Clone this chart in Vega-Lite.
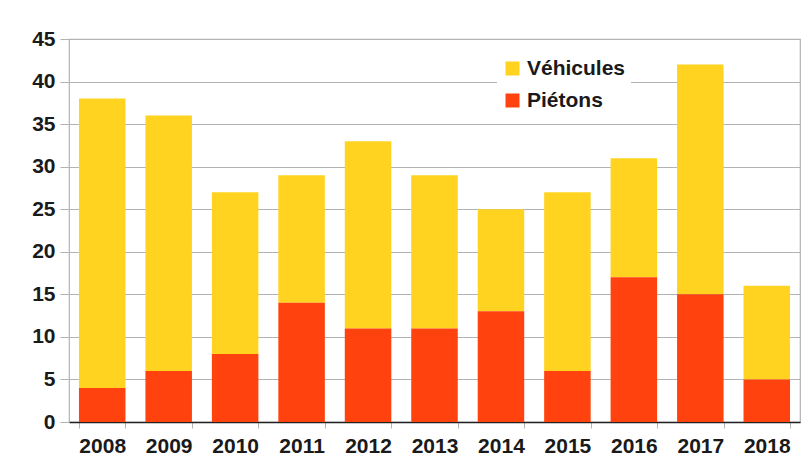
{
  "$schema": "https://vega.github.io/schema/vega-lite/v6.json",
  "width": 731,
  "height": 383,
  "autosize": {"type": "none"},
  "padding": {"left": 69, "top": 39, "right": 12, "bottom": 40},
  "background": "white",
  "data": {
    "values": [
      {"annee": "2008", "type": "Véhicules", "nombre": 34},
      {"annee": "2008", "type": "Piétons", "nombre": 4},
      {"annee": "2009", "type": "Véhicules", "nombre": 30},
      {"annee": "2009", "type": "Piétons", "nombre": 6},
      {"annee": "2010", "type": "Véhicules", "nombre": 19},
      {"annee": "2010", "type": "Piétons", "nombre": 8},
      {"annee": "2011", "type": "Véhicules", "nombre": 15},
      {"annee": "2011", "type": "Piétons", "nombre": 14},
      {"annee": "2012", "type": "Véhicules", "nombre": 22},
      {"annee": "2012", "type": "Piétons", "nombre": 11},
      {"annee": "2013", "type": "Véhicules", "nombre": 18},
      {"annee": "2013", "type": "Piétons", "nombre": 11},
      {"annee": "2014", "type": "Véhicules", "nombre": 12},
      {"annee": "2014", "type": "Piétons", "nombre": 13},
      {"annee": "2015", "type": "Véhicules", "nombre": 21},
      {"annee": "2015", "type": "Piétons", "nombre": 6},
      {"annee": "2016", "type": "Véhicules", "nombre": 14},
      {"annee": "2016", "type": "Piétons", "nombre": 17},
      {"annee": "2017", "type": "Véhicules", "nombre": 27},
      {"annee": "2017", "type": "Piétons", "nombre": 15},
      {"annee": "2018", "type": "Véhicules", "nombre": 11},
      {"annee": "2018", "type": "Piétons", "nombre": 5}
    ]
  },
  "mark": {"type": "bar", "strokeWidth": 0},
  "encoding": {
    "x": {
      "field": "annee",
      "type": "ordinal",
      "scale": {"paddingInner": 0.3, "paddingOuter": 0.15},
      "axis": {
        "title": null,
        "labelAngle": 0,
        "labelFont": "Liberation Sans",
        "labelFontWeight": "bold",
        "labelFontSize": 21,
        "labelColor": "#1a1a1a",
        "labelPadding": 7,
        "tickBand": "extent",
        "tickColor": "#b3b3b3",
        "tickSize": 6,
        "domainColor": "#222222",
        "domainWidth": 1.5,
        "grid": false
      }
    },
    "y": {
      "field": "nombre",
      "type": "quantitative",
      "stack": "zero",
      "scale": {"domain": [0, 45], "nice": false},
      "axis": {
        "title": null,
        "values": [0, 5, 10, 15, 20, 25, 30, 35, 40, 45],
        "labelFont": "Liberation Sans",
        "labelFontWeight": "bold",
        "labelFontSize": 21,
        "labelColor": "#1a1a1a",
        "labelPadding": 5,
        "tickColor": "#b3b3b3",
        "tickSize": 9,
        "domain": false,
        "grid": true,
        "gridColor": "#b3b3b3",
        "gridWidth": 1.2
      }
    },
    "color": {
      "field": "type",
      "type": "nominal",
      "scale": {"domain": ["Véhicules", "Piétons"], "range": ["#ffd320", "#ff420e"]},
      "legend": {
        "title": null,
        "orient": "none",
        "legendX": 428,
        "legendY": 14,
        "fillColor": "white",
        "padding": 5,
        "symbolType": "square",
        "symbolSize": 196,
        "symbolStrokeWidth": 0,
        "symbolOpacity": 1,
        "labelFont": "Liberation Sans",
        "labelFontWeight": "bold",
        "labelFontSize": 21,
        "labelColor": "#1a1a1a",
        "labelOffset": 4,
        "rowPadding": 10
      }
    },
    "order": {"field": "type", "sort": "ascending"}
  },
  "config": {
    "view": {"stroke": "#b3b3b3", "strokeWidth": 1.2}
  }
}
